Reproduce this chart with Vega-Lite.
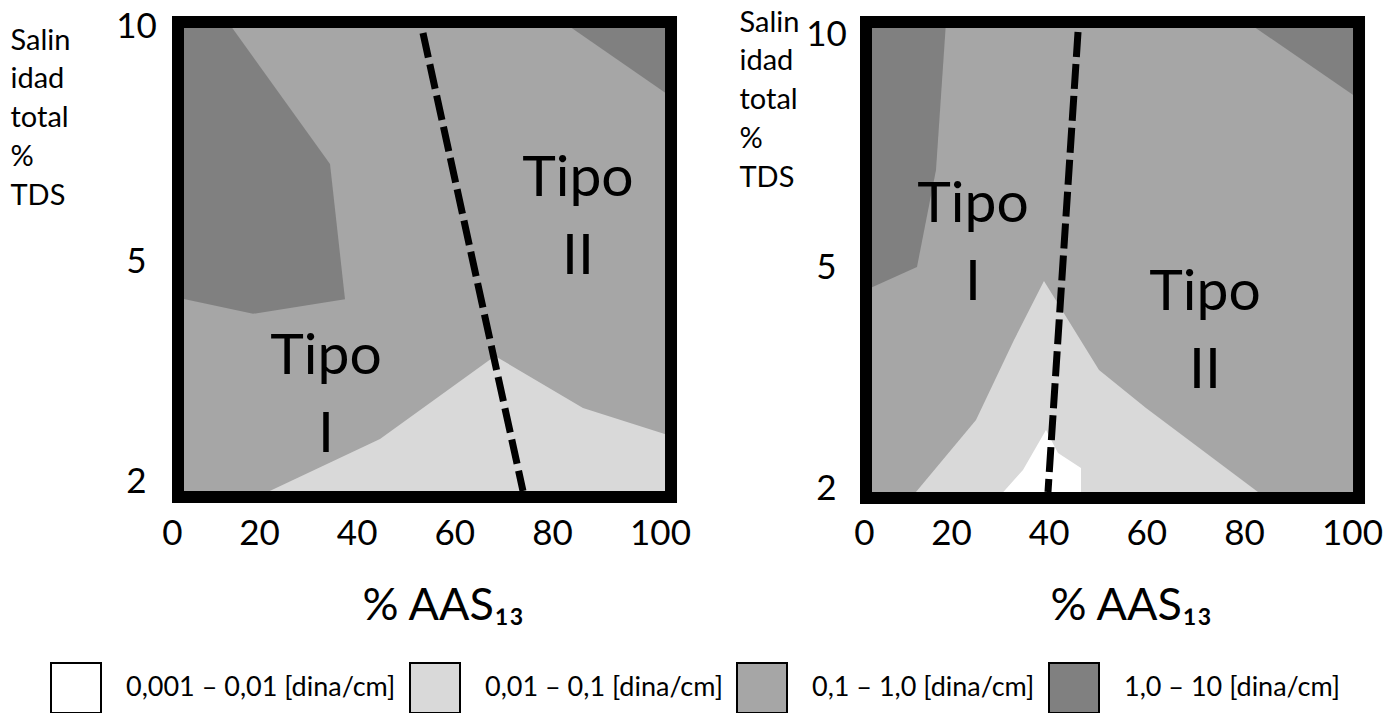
{
  "$schema": "https://vega.github.io/schema/vega-lite/v6.json",
  "background": "white",
  "padding": {"left": 10, "top": 8, "right": 0, "bottom": 0},
  "spacing": 48,
  "config": {
    "view": {"stroke": null},
    "font": "Lato",
    "legend": {
      "orient": "none",
      "direction": "horizontal",
      "symbolType": "square",
      "symbolSize": 2500,
      "symbolStrokeColor": "black",
      "symbolStrokeWidth": 2,
      "symbolOpacity": 1,
      "labelFont": "Lato",
      "labelFontSize": 27,
      "labelColor": "black",
      "labelOffset": 24,
      "labelLimit": 500,
      "columnPadding": 10,
      "title": null
    }
  },
  "datasets": {
    "poligonos": [
      {"panel": "A", "id": "A-m", "clase": 3, "nivel": "0,1 – 1,0 [dina/cm]", "orden": 1, "x": 1.38, "y": 1.782},
      {"panel": "A", "id": "A-m", "clase": 3, "nivel": "0,1 – 1,0 [dina/cm]", "orden": 2, "x": 102.04, "y": 1.782},
      {"panel": "A", "id": "A-m", "clase": 3, "nivel": "0,1 – 1,0 [dina/cm]", "orden": 3, "x": 102.04, "y": 10.096},
      {"panel": "A", "id": "A-m", "clase": 3, "nivel": "0,1 – 1,0 [dina/cm]", "orden": 4, "x": 1.38, "y": 10.096},
      {"panel": "A", "id": "A-d1", "clase": 4, "nivel": "1,0 – 10 [dina/cm]", "orden": 1, "x": 1.38, "y": 10.096},
      {"panel": "A", "id": "A-d1", "clase": 4, "nivel": "1,0 – 10 [dina/cm]", "orden": 2, "x": 12.87, "y": 10.096},
      {"panel": "A", "id": "A-d1", "clase": 4, "nivel": "1,0 – 10 [dina/cm]", "orden": 3, "x": 34.54, "y": 7.07},
      {"panel": "A", "id": "A-d1", "clase": 4, "nivel": "1,0 – 10 [dina/cm]", "orden": 4, "x": 37.61, "y": 4.48},
      {"panel": "A", "id": "A-d1", "clase": 4, "nivel": "1,0 – 10 [dina/cm]", "orden": 5, "x": 18.62, "y": 4.28},
      {"panel": "A", "id": "A-d1", "clase": 4, "nivel": "1,0 – 10 [dina/cm]", "orden": 6, "x": 1.38, "y": 4.5},
      {"panel": "A", "id": "A-d2", "clase": 4, "nivel": "1,0 – 10 [dina/cm]", "orden": 1, "x": 82.04, "y": 10.096},
      {"panel": "A", "id": "A-d2", "clase": 4, "nivel": "1,0 – 10 [dina/cm]", "orden": 2, "x": 102.04, "y": 10.096},
      {"panel": "A", "id": "A-d2", "clase": 4, "nivel": "1,0 – 10 [dina/cm]", "orden": 3, "x": 102.04, "y": 8.5},
      {"panel": "A", "id": "A-l", "clase": 2, "nivel": "0,01 – 0,1 [dina/cm]", "orden": 1, "x": 19.54, "y": 1.782},
      {"panel": "A", "id": "A-l", "clase": 2, "nivel": "0,01 – 0,1 [dina/cm]", "orden": 2, "x": 44.78, "y": 2.573},
      {"panel": "A", "id": "A-l", "clase": 2, "nivel": "0,01 – 0,1 [dina/cm]", "orden": 3, "x": 68.33, "y": 3.705},
      {"panel": "A", "id": "A-l", "clase": 2, "nivel": "0,01 – 0,1 [dina/cm]", "orden": 4, "x": 85.74, "y": 2.995},
      {"panel": "A", "id": "A-l", "clase": 2, "nivel": "0,01 – 0,1 [dina/cm]", "orden": 5, "x": 102.04, "y": 2.614},
      {"panel": "A", "id": "A-l", "clase": 2, "nivel": "0,01 – 0,1 [dina/cm]", "orden": 6, "x": 102.04, "y": 1.782},
      {"panel": "B", "id": "B-m", "clase": 3, "nivel": "0,1 – 1,0 [dina/cm]", "orden": 1, "x": 0.46, "y": 1.871},
      {"panel": "B", "id": "B-m", "clase": 3, "nivel": "0,1 – 1,0 [dina/cm]", "orden": 2, "x": 101.3, "y": 1.871},
      {"panel": "B", "id": "B-m", "clase": 3, "nivel": "0,1 – 1,0 [dina/cm]", "orden": 3, "x": 101.3, "y": 10.258},
      {"panel": "B", "id": "B-m", "clase": 3, "nivel": "0,1 – 1,0 [dina/cm]", "orden": 4, "x": 0.46, "y": 10.258},
      {"panel": "B", "id": "B-d1", "clase": 4, "nivel": "1,0 – 10 [dina/cm]", "orden": 1, "x": 0.46, "y": 10.258},
      {"panel": "B", "id": "B-d1", "clase": 4, "nivel": "1,0 – 10 [dina/cm]", "orden": 2, "x": 18.85, "y": 10.258},
      {"panel": "B", "id": "B-d1", "clase": 4, "nivel": "1,0 – 10 [dina/cm]", "orden": 3, "x": 16.55, "y": 7.082},
      {"panel": "B", "id": "B-d1", "clase": 4, "nivel": "1,0 – 10 [dina/cm]", "orden": 4, "x": 12.18, "y": 5.0},
      {"panel": "B", "id": "B-d1", "clase": 4, "nivel": "1,0 – 10 [dina/cm]", "orden": 5, "x": 0.46, "y": 4.688},
      {"panel": "B", "id": "B-d2", "clase": 4, "nivel": "1,0 – 10 [dina/cm]", "orden": 1, "x": 80.56, "y": 10.258},
      {"panel": "B", "id": "B-d2", "clase": 4, "nivel": "1,0 – 10 [dina/cm]", "orden": 2, "x": 101.3, "y": 10.258},
      {"panel": "B", "id": "B-d2", "clase": 4, "nivel": "1,0 – 10 [dina/cm]", "orden": 3, "x": 101.3, "y": 8.605},
      {"panel": "B", "id": "B-l", "clase": 2, "nivel": "0,01 – 0,1 [dina/cm]", "orden": 1, "x": 10.8, "y": 1.871},
      {"panel": "B", "id": "B-l", "clase": 2, "nivel": "0,01 – 0,1 [dina/cm]", "orden": 2, "x": 25.12, "y": 2.928},
      {"panel": "B", "id": "B-l", "clase": 2, "nivel": "0,01 – 0,1 [dina/cm]", "orden": 3, "x": 32.9, "y": 4.011},
      {"panel": "B", "id": "B-l", "clase": 2, "nivel": "0,01 – 0,1 [dina/cm]", "orden": 4, "x": 39.04, "y": 4.81},
      {"panel": "B", "id": "B-l", "clase": 2, "nivel": "0,01 – 0,1 [dina/cm]", "orden": 5, "x": 50.31, "y": 3.605},
      {"panel": "B", "id": "B-l", "clase": 2, "nivel": "0,01 – 0,1 [dina/cm]", "orden": 6, "x": 59.93, "y": 3.09},
      {"panel": "B", "id": "B-l", "clase": 2, "nivel": "0,01 – 0,1 [dina/cm]", "orden": 7, "x": 84.07, "y": 1.871},
      {"panel": "B", "id": "B-w", "clase": 1, "nivel": "0,001 – 0,01 [dina/cm]", "orden": 1, "x": 29.62, "y": 1.871},
      {"panel": "B", "id": "B-w", "clase": 1, "nivel": "0,001 – 0,01 [dina/cm]", "orden": 2, "x": 34.74, "y": 2.251},
      {"panel": "B", "id": "B-w", "clase": 1, "nivel": "0,001 – 0,01 [dina/cm]", "orden": 3, "x": 39.45, "y": 2.792},
      {"panel": "B", "id": "B-w", "clase": 1, "nivel": "0,001 – 0,01 [dina/cm]", "orden": 4, "x": 41.91, "y": 2.481},
      {"panel": "B", "id": "B-w", "clase": 1, "nivel": "0,001 – 0,01 [dina/cm]", "orden": 5, "x": 46.62, "y": 2.278},
      {"panel": "B", "id": "B-w", "clase": 1, "nivel": "0,001 – 0,01 [dina/cm]", "orden": 6, "x": 46.62, "y": 1.871}
    ],
    "lineas": [
      {"panel": "A", "id": "A-div", "orden": 1, "x": 53.58, "y": 9.861},
      {"panel": "A", "id": "A-div", "orden": 2, "x": 74.06, "y": 1.864},
      {"panel": "B", "id": "B-div", "orden": 1, "x": 46.01, "y": 10.043},
      {"panel": "B", "id": "B-div", "orden": 2, "x": 39.86, "y": 1.953}
    ],
    "rotulos": [
      {"panel": "A", "texto": "Tipo\nI", "x": 33.72, "y": 3.459},
      {"panel": "A", "texto": "Tipo\nII", "x": 84.81, "y": 6.386},
      {"panel": "B", "texto": "Tipo\nI", "x": 24.51, "y": 5.966},
      {"panel": "B", "texto": "Tipo\nII", "x": 72.01, "y": 4.418}
    ],
    "marcos": [
      {"panel": "A", "x": 1.38, "x2": 102.04, "y": 1.782, "y2": 10.096},
      {"panel": "B", "x": 0.46, "x2": 101.3, "y": 1.871, "y2": 10.258}
    ]
  },
  "hconcat": [
    {
      "width": 506,
      "height": 488,
      "encoding": {
        "x": {
          "field": "x", "type": "quantitative",
          "scale": {"domain": [0, 20, 80, 100], "range": [0, 87, 380, 488], "zero": false, "nice": false},
          "axis": {
            "values": [0, 20, 40, 60, 80, 100], "title": "% AAS₁₃", "domain": false, "ticks": false, "tickSize": 0, "grid": false,
            "labelFont": "Lato", "labelFontSize": 35, "labelColor": "black", "labelPadding": 40, "labelBaseline": "alphabetic",
            "labelFlush": false, "labelOverlap": false, "labelAlign": "center",
            "titleFont": "Lato", "titleFontSize": 45, "titleFontWeight": "normal", "titleColor": "black",
            "titleAlign": "left", "titleBaseline": "alphabetic", "titleX": 190, "titleY": 115
          }
        },
        "y": {
          "field": "y", "type": "quantitative",
          "scale": {"domain": [2, 5, 10], "range": [465, 245, 10.5], "zero": false, "nice": false},
          "axis": {
            "values": [2, 5, 10], "title": ["Salin", "idad", "total", "%", "TDS"], "domain": false, "ticks": false, "tickSize": 0, "grid": false,
            "labelFont": "Lato", "labelFontSize": 35, "labelColor": "black", "labelAlign": "center", "labelBaseline": "middle",
            "labelPadding": 36, "labelOverlap": false, "labelFlush": false,
            "titleAngle": 0, "titleAlign": "left", "titleBaseline": "alphabetic", "titleX": -162, "titleY": 33,
            "titleFont": "Lato", "titleFontSize": 29, "titleFontWeight": "normal", "titleColor": "black", "titleLineHeight": 38.8
          }
        }
      },
      "layer": [
        {
          "data": {"name": "poligonos"},
          "transform": [{"filter": "datum.panel === 'A' && datum.clase === 3"}],
          "mark": {"type": "line", "filled": true, "strokeWidth": 0},
          "encoding": {
            "fill": {"field": "nivel", "type": "nominal",
              "scale": {"domain": ["0,001 – 0,01 [dina/cm]", "0,01 – 0,1 [dina/cm]", "0,1 – 1,0 [dina/cm]", "1,0 – 10 [dina/cm]"], "range": ["#ffffff", "#d9d9d9", "#a6a6a6", "#808080"]},
              "legend": {"orient": "none", "legendX": -122, "legendY": 646, "direction": "horizontal", "title": null}},
            "detail": {"field": "id"},
            "order": {"field": "orden", "type": "quantitative"}
          }
        },
        {
          "data": {"name": "poligonos"},
          "transform": [{"filter": "datum.panel === 'A' && (datum.clase === 2 || datum.clase === 4)"}],
          "mark": {"type": "line", "filled": true, "strokeWidth": 0},
          "encoding": {
            "fill": {"field": "nivel", "type": "nominal"},
            "detail": {"field": "id"},
            "order": {"field": "orden", "type": "quantitative"}
          }
        },
        {
          "data": {"name": "lineas"},
          "transform": [{"filter": "datum.panel === 'A'"}],
          "mark": {"type": "line", "color": "black", "strokeWidth": 7, "strokeDash": [25, 7], "strokeCap": "butt"},
          "encoding": {
            "detail": {"field": "id"},
            "order": {"field": "orden", "type": "quantitative"}
          }
        },
        {
          "data": {"name": "marcos"},
          "transform": [{"filter": "datum.panel === 'A'"}],
          "mark": {"type": "rect", "filled": false, "color": "black", "strokeWidth": 12},
          "encoding": {"x2": {"field": "x2"}, "y2": {"field": "y2"}}
        },
        {
          "data": {"name": "rotulos"},
          "transform": [{"filter": "datum.panel === 'A'"}],
          "mark": {"type": "text", "font": "Lato", "fontSize": 57, "lineHeight": 78, "lineBreak": "\n", "align": "center", "baseline": "alphabetic", "color": "black"},
          "encoding": {"text": {"field": "texto"}}
        }
      ]
    },
    {
      "width": 506,
      "height": 488,
      "encoding": {
        "x": {
          "field": "x", "type": "quantitative",
          "scale": {"domain": [0, 20, 80, 100], "range": [4, 91, 384, 492], "zero": false, "nice": false},
          "axis": {
            "values": [0, 20, 40, 60, 80, 100], "title": "% AAS₁₃", "domain": false, "ticks": false, "tickSize": 0, "grid": false,
            "labelFont": "Lato", "labelFontSize": 35, "labelColor": "black", "labelPadding": 40, "labelBaseline": "alphabetic",
            "labelFlush": false, "labelOverlap": false, "labelAlign": "center",
            "titleFont": "Lato", "titleFontSize": 45, "titleFontWeight": "normal", "titleColor": "black",
            "titleAlign": "left", "titleBaseline": "alphabetic", "titleX": 190, "titleY": 115
          }
        },
        "y": {
          "field": "y", "type": "quantitative",
          "scale": {"domain": [2, 5, 10], "range": [472.5, 251, 18], "zero": false, "nice": false},
          "axis": {
            "values": [2, 5, 10], "title": ["Salin", "idad", "total", "%", "TDS"], "domain": false, "ticks": false, "tickSize": 0, "grid": false,
            "labelFont": "Lato", "labelFontSize": 35, "labelColor": "black", "labelAlign": "center", "labelBaseline": "middle",
            "labelPadding": 34, "labelOverlap": false, "labelFlush": false,
            "titleAngle": 0, "titleAlign": "left", "titleBaseline": "alphabetic", "titleX": -121, "titleY": 15,
            "titleFont": "Lato", "titleFontSize": 29, "titleFontWeight": "normal", "titleColor": "black", "titleLineHeight": 38.8
          }
        }
      },
      "layer": [
        {
          "data": {"name": "poligonos"},
          "transform": [{"filter": "datum.panel === 'B' && datum.clase === 3"}],
          "mark": {"type": "line", "filled": true, "strokeWidth": 0},
          "encoding": {
            "fill": {"field": "nivel", "type": "nominal"},
            "detail": {"field": "id"},
            "order": {"field": "orden", "type": "quantitative"}
          }
        },
        {
          "data": {"name": "poligonos"},
          "transform": [{"filter": "datum.panel === 'B' && (datum.clase === 2 || datum.clase === 4)"}],
          "mark": {"type": "line", "filled": true, "strokeWidth": 0},
          "encoding": {
            "fill": {"field": "nivel", "type": "nominal"},
            "detail": {"field": "id"},
            "order": {"field": "orden", "type": "quantitative"}
          }
        },
        {
          "data": {"name": "poligonos"},
          "transform": [{"filter": "datum.panel === 'B' && datum.clase === 1"}],
          "mark": {"type": "line", "filled": true, "strokeWidth": 0},
          "encoding": {
            "fill": {"field": "nivel", "type": "nominal"},
            "detail": {"field": "id"},
            "order": {"field": "orden", "type": "quantitative"}
          }
        },
        {
          "data": {"name": "lineas"},
          "transform": [{"filter": "datum.panel === 'B'"}],
          "mark": {"type": "line", "color": "black", "strokeWidth": 7, "strokeDash": [25, 7], "strokeCap": "butt"},
          "encoding": {
            "detail": {"field": "id"},
            "order": {"field": "orden", "type": "quantitative"}
          }
        },
        {
          "data": {"name": "marcos"},
          "transform": [{"filter": "datum.panel === 'B'"}],
          "mark": {"type": "rect", "filled": false, "color": "black", "strokeWidth": 12},
          "encoding": {"x2": {"field": "x2"}, "y2": {"field": "y2"}}
        },
        {
          "data": {"name": "rotulos"},
          "transform": [{"filter": "datum.panel === 'B'"}],
          "mark": {"type": "text", "font": "Lato", "fontSize": 57, "lineHeight": 78, "lineBreak": "\n", "align": "center", "baseline": "alphabetic", "color": "black"},
          "encoding": {"text": {"field": "texto"}}
        }
      ]
    }
  ]
}
